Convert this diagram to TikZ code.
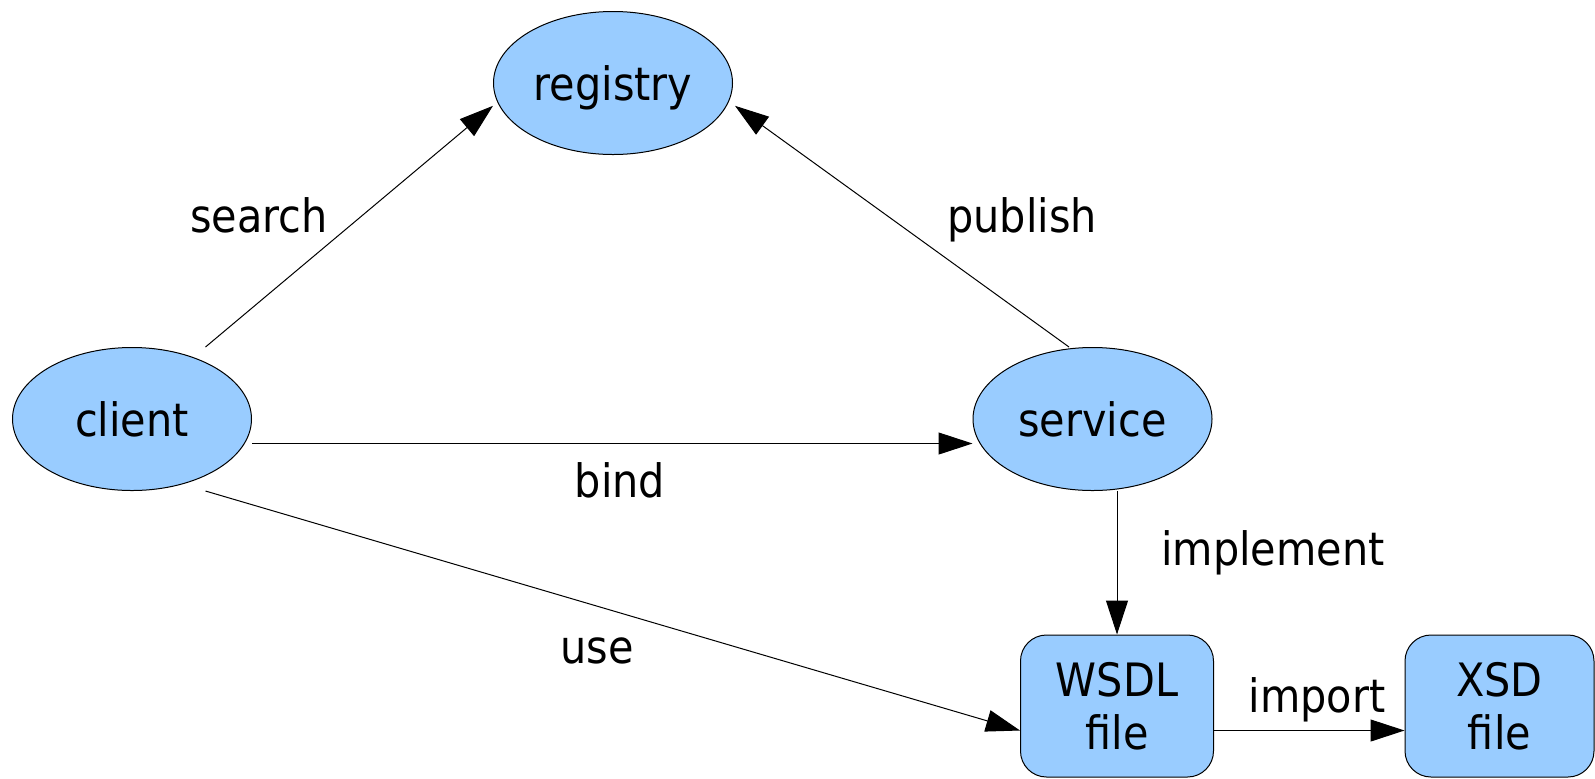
\documentclass[tikz,border=0pt]{standalone}
\usepackage{fontspec}
\setmainfont{DejaVu Sans}[FakeStretch=0.9]
\usetikzlibrary{shapes.geometric,arrows.meta,calc}
\definecolor{nodeblue}{HTML}{99CCFF}
\begin{document}
\begin{tikzpicture}[x=0.5pt,y=-0.5pt,
  txt/.style={font=\fontsize{23}{26.5}\selectfont},
  ell/.style={ellipse,draw=black,line width=0.5pt,fill=nodeblue,
    minimum width=119.5pt,minimum height=71.5pt,inner sep=0pt,txt,
    text height=17.5pt,text depth=0pt},
  filebox/.style={rectangle,rounded corners=13pt,draw=black,line width=0.5pt,
    fill=nodeblue,minimum height=71pt,inner sep=0pt,align=center,txt},
  lbl/.style={inner sep=0pt,txt,text height=17.5pt,text depth=0pt},
  arr/.style={line width=0.5pt,-{Triangle[length=17pt,width=11pt]}}]
\useasboundingbox (0,0) rectangle (1595,778);
\node[ell] (registry) at (613,83) {registry};
\node[ell] (client) at (132,419) {client};
\node[ell] (service) at (1092.5,419) {service};
\node[filebox,minimum width=96.5pt] (wsdl) at (1117,706) {WSDL\\file};
\node[filebox,minimum width=94.5pt] (xsd) at (1499.5,706) {XSD\\file};
\draw[arr] ([xshift=36.75pt]client.north) -- ([yshift=-11.4pt]registry.west);
\draw[arr] ([xshift=-11.75pt]service.north) -- ([xshift=1pt,yshift=-11.4pt]registry.east);
\draw[arr] ([yshift=-12.25pt]client.east) -- ([yshift=-12.25pt]service.west);
\draw[arr] ([xshift=36.75pt]client.south) -- ([yshift=-12.25pt]wsdl.west);
\draw[arr] (service.south -| wsdl.north) -- (wsdl.north);
\draw[arr] ([yshift=-12.25pt]wsdl.east) -- ([yshift=-12.25pt]xsd.west);
\node[lbl] (lsearch) at (259,214.5) {search};
\node[lbl] (lpublish) at (1022,214.5) {publish};
\node[lbl] (lbind) at (620,480) {bind};
\node[lbl] (limplement) at (1273,547.5) {implement};
\node[lbl] (luse) at (597,645.5) {use};
\node[lbl] (limport) at (1317,694.5) {import};
\end{tikzpicture}
\end{document}
